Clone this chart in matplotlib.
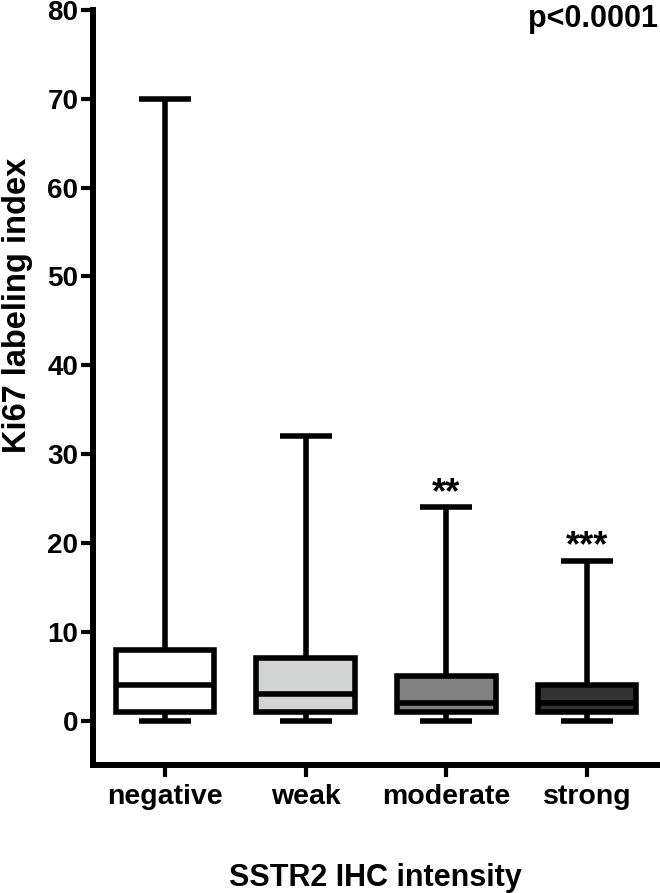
"""Ki67 labeling index by SSTR2 IHC intensity (box and whisker, min to max)."""

import matplotlib

matplotlib.use("Agg")
import matplotlib.pyplot as plt

categories = ["negative", "weak", "moderate", "strong"]
mins = [0, 0, 0, 0]
q1s = [1, 1, 1, 1]
medians = [4, 3, 2, 2]
q3s = [8, 7, 5, 4]
maxs = [70, 32, 24, 18]
box_colors = ["#ffffff", "#d3d5d4", "#808281", "#323232"]
stars = ["", "", "**", "***"]
y_ticks = [0, 10, 20, 30, 40, 50, 60, 70, 80]

plt.rcParams["font.family"] = ["Liberation Sans", "DejaVu Sans"]
plt.rcParams["font.weight"] = "bold"

W, H = 660, 893
fig = plt.figure(figsize=(W / 100, H / 100), dpi=100)
# axes box in pixels: y spine at x=93, x axis at y=765, top at y=10
ax = fig.add_axes([93 / W, 1 - 765 / H, (658 - 93) / W, (765 - 10) / H])

stats = [
    {"whislo": lo, "q1": a, "med": m, "q3": b, "whishi": hi, "label": c}
    for c, lo, a, m, b, hi in zip(categories, mins, q1s, medians, q3s, maxs)
]
positions = list(range(1, len(categories) + 1))
lw = 4.0
bp = ax.bxp(
    stats,
    positions=positions,
    widths=0.70,
    capwidths=0.37,
    showfliers=False,
    patch_artist=True,
    boxprops={"linewidth": lw, "edgecolor": "black"},
    whiskerprops={"linewidth": lw, "color": "black", "solid_capstyle": "butt"},
    capprops={"linewidth": lw, "color": "black", "solid_capstyle": "butt"},
    medianprops={"linewidth": lw, "color": "black", "solid_capstyle": "butt"},
)
for patch, col in zip(bp["boxes"], box_colors):
    patch.set_facecolor(col)
    patch.set_joinstyle("miter")

for x, s, hi in zip(positions, stars, maxs):
    if s:
        ax.text(x, hi + 0.5, s, ha="center", va="baseline", fontsize=26, fontweight="bold")

ax.set_xlim(0.488, 4.505)
ax.set_ylim(-5, 80)
ax.set_yticks(y_ticks)
ax.set_xticks(positions)
ax.set_xticklabels(categories)
ax.tick_params(axis="y", width=3, length=8.6, labelsize=20, pad=2)
ax.tick_params(axis="x", width=3, length=8.6, labelsize=20.5, pad=5)
for lab in ax.get_xticklabels() + ax.get_yticklabels():
    lab.set_fontweight("bold")

for side in ["top", "right"]:
    ax.spines[side].set_visible(False)
for side in ["left", "bottom"]:
    ax.spines[side].set_linewidth(4.3)
    ax.spines[side].set_capstyle("projecting")

fig.text(2 / W, 1 - 305 / H, "Ki67 labeling index", rotation=90, ha="left", va="center",
         fontsize=23.5, fontweight="bold")
fig.text(375 / W, 1 - 886 / H, "SSTR2 IHC intensity", ha="center", va="baseline",
         fontsize=22, fontweight="bold")
fig.text(658 / W, 1 - 27 / H, "p<0.0001", ha="right", va="baseline",
         fontsize=22, fontweight="bold")

fig.savefig("out.png", dpi=100)
